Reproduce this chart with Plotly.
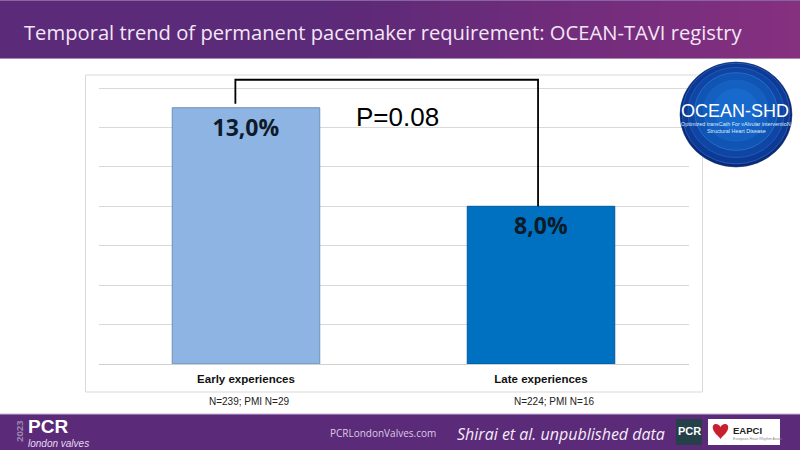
import plotly.graph_objects as go

categories = ["Early experiences", "Late experiences"]
positions = [0, 1]
values = [13.0, 8.0]
value_labels = ["13,0%", "8,0%"]
bar_colors = ["#8DB4E2", "#0070C0"]
line_colors = ["#6f8fb5", "#005a9c"]
n_labels = ["N=239; PMI N=29", "N=224; PMI N=16"]
bracket_x = [-0.036, -0.036, 0.99, 0.99]
bracket_y = [13.2, 14.42, 14.42, 8.0]
W, H = 800, 450
def px(x): return x / W
def py(y): return 1 - y / H

shapes = []
N = 80
for band_y0, band_y1 in [(0, 59), (414, 450)]:
    for i in range(N):
        t = i / (N - 1)
        t2 = max(0, (t - 0.4) / 0.6) if band_y0 == 0 else 0
        r = int(0x5b + (0x86 - 0x5b) * t2)
        g = int(0x2a + (0x30 - 0x2a) * t2)
        b = int(0x78 + (0x80 - 0x78) * t2)
        shapes.append(dict(type="rect", xref="paper", yref="paper", layer="below",
                           x0=px(W * i / N), x1=px(W * (i + 1) / N + 1),
                           y0=py(band_y1), y1=py(band_y0), line_width=0,
                           fillcolor=f"rgb({r},{g},{b})"))
for y, c in [(0.5, "#8a64a0"), (58.5, "#a58ab5"), (414, "#c9b4d6")]:
    shapes.append(dict(type="line", xref="paper", yref="paper", layer="below",
                       x0=0, x1=1, y0=py(y), y1=py(y), line=dict(color=c, width=1)))
shapes.append(dict(type="rect", xref="paper", yref="paper", layer="below",
                   x0=px(85.5), x1=px(702.5), y0=py(392), y1=py(75),
                   line=dict(color="#d9d9d9", width=1), fillcolor="white"))
# logo: ellipse with off-centre shading and thin rings
cx, cy, RX, RY = 736, 114.5, 56, 52.5
steps = [(1.0, 0, "#0a2a78", "#0a2a78"), (0.96, -1, "#0d3a96", "#3f7fd0"), (0.86, -2, "#0f46a6", "#2f72c8"),
         (0.74, -3, "#1155b4", "#3f86d8"), (0.58, -4, "#155fc0", "#1c6ccb"), (0.4, -5, "#1769cc", "#1769cc")]
for f, off, c, lc in steps:
    shapes.append(dict(type="circle", xref="paper", yref="paper", layer="above",
                       x0=px(cx - RX * f), x1=px(cx + RX * f),
                       y0=py(cy + off + RY * f), y1=py(cy + off - RY * f),
                       fillcolor=c, line=dict(color=lc, width=0.5)))
shapes.append(dict(type="rect", xref="paper", yref="paper", layer="above",
                   x0=px(676), x1=px(702), y0=py(445), y1=py(419), fillcolor="#26404a", line_width=0))
shapes.append(dict(type="rect", xref="paper", yref="paper", layer="above",
                   x0=px(708), x1=px(780), y0=py(445), y1=py(419), fillcolor="white", line_width=0))
hx, hy = 720.5, 423
heart = (f"M {px(hx)},{py(hy+4)} C {px(hx-3)},{py(hy-1)} {px(hx-9)},{py(hy+1)} {px(hx-7.5)},{py(hy+6)} "
         f"C {px(hx-6.5)},{py(hy+10)} {px(hx-2)},{py(hy+13)} {px(hx)},{py(hy+16)} "
         f"C {px(hx+2)},{py(hy+13)} {px(hx+6.5)},{py(hy+10)} {px(hx+7.5)},{py(hy+6)} "
         f"C {px(hx+9)},{py(hy+1)} {px(hx+3)},{py(hy-1)} {px(hx)},{py(hy+4)} Z")
shapes.append(dict(type="path", xref="paper", yref="paper", layer="above", path=heart,
                   fillcolor="#c8202f", line_width=0))

fig = go.Figure()
fig.add_trace(go.Bar(x=positions, y=values, width=0.5,
                     marker=dict(color=bar_colors, line=dict(color=line_colors, width=1)),
                     text=value_labels, textposition="inside", insidetextanchor="end",
                     textangle=0,
                     textfont=dict(family="Open Sans, Liberation Sans", size=23, color="#0d1b2a", weight="bold"),
                     showlegend=False, hoverinfo="skip"))
fig.add_trace(go.Scatter(x=bracket_x, y=bracket_y, mode="lines",
                         line=dict(color="black", width=1.8), cliponaxis=False,
                         showlegend=False, hoverinfo="skip"))

def T(x, y, text, size, color, family="Open Sans", xa="center", **kw):
    return dict(xref="paper", yref="paper", x=px(x), y=py(y), text=text, showarrow=False,
                xanchor=xa, yanchor="middle", font=dict(family=family, size=size, color=color), **kw)

annotations = [
    T(21.5, 32, "Temporal trend of permanent pacemaker requirement: OCEAN-TAVI registry", 20.2, "#f3e6f7", xa="left"),
    T(354, 117, "P=0.08", 26, "black", family="Liberation Sans", xa="left"),
    T(248.5, 401, n_labels[0], 10, "#222", family="Liberation Sans"),
    T(554, 401, n_labels[1], 10, "#222", family="Liberation Sans"),
    T(735, 111, "OCEAN-SHD", 18, "white", family="Liberation Sans"),
    T(736, 124, "Optimized transCath For vAlvular interventioN", 5.4, "#dcebff", family="Liberation Sans"),
    T(736, 131, "Structural Heart Disease", 5.4, "#dcebff", family="Liberation Sans"),
    T(26, 426, "<b>PCR</b>", 19, "white", family="Liberation Sans", xa="left"),
    T(26, 443, "<i>london valves</i>", 10, "#e6d9ee", family="Liberation Sans", xa="left"),
    T(19, 431, "<b>2023</b>", 9.5, "#9a86ad", family="Open Sans", textangle=-90),
    T(328, 433, "PCRLondonValves.com", 10, "#dccbe6", xa="left"),
    T(455, 434, "<i>Shirai et al. unpublished data</i>", 16, "#f5ecf8", xa="left"),
    T(689, 431, "<b>PCR</b>", 11, "white", family="Liberation Sans"),
    T(731, 430, "<b>EAPCI</b>", 9.5, "#222", family="Liberation Sans", xa="left"),
    T(731, 439, "European Heart Rhythm Assoc", 3.6, "#888", family="Liberation Sans", xa="left"),
]

fig.update_layout(
    width=W, height=H, autosize=False, paper_bgcolor="white", plot_bgcolor="white",
    margin=dict(l=0, r=0, t=0, b=0),
    shapes=shapes, annotations=annotations,
    xaxis=dict(domain=[px(98.5), px(688.5)], range=[-0.5, 1.5], tickmode="array",
               tickvals=positions, ticktext=categories, showgrid=False, zeroline=False,
               linecolor="#d0d0d0", ticks="", ticklabelstandoff=4,
               tickfont=dict(family="Liberation Sans", size=11.5, color="#111", weight="bold")),
    yaxis=dict(domain=[py(364), py(76.2)], range=[0, 14.6], dtick=2, gridcolor="#d9d9d9",
               showticklabels=False, zeroline=False, ticks=""),
    font=dict(family="Liberation Sans"),
)
fig.write_html("out.html", post_script="document.body.style.margin='0';",
               config=dict(displayModeBar=False))
